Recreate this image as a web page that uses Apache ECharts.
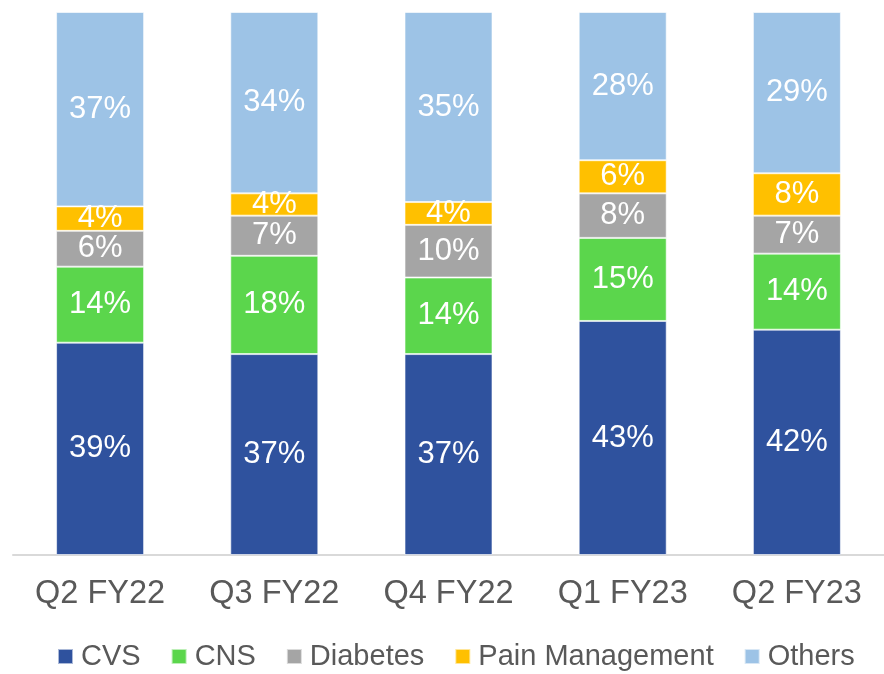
<!DOCTYPE html>
<html>
<head>
<meta charset="utf-8">
<script src="https://cdn.jsdelivr.net/npm/echarts@6/dist/echarts.min.js"></script>
<style>
  html, body { margin: 0; padding: 0; background: #fff; }
  #chart { width: 884px; height: 674px; }
</style>
</head>
<body>
<div id="chart"></div>
<script>
// quarters on the x axis
var quarters = ['Q2 FY22', 'Q3 FY22', 'Q4 FY22', 'Q1 FY23', 'Q2 FY23'];

// segment sizes as drawn (share of a 100% bar)
var cvs = [39.1, 37.0, 37.0, 43.1, 41.5];
var cns = [14.0, 18.1, 14.1, 15.3, 14.0];
var diabetes = [6.6, 7.4, 9.7, 8.2, 7.0];
var painMgmt = [4.5, 4.1, 4.2, 6.1, 7.8];
var others = [35.8, 33.4, 35.0, 27.3, 29.7];

// labels printed on the bars
var cvsLabels = [39, 37, 37, 43, 42];
var cnsLabels = [14, 18, 14, 15, 14];
var diabetesLabels = [6, 7, 10, 8, 7];
var painLabels = [4, 4, 4, 6, 8];
var othersLabels = [37, 34, 35, 28, 29];

var seriesNames = ['CVS', 'CNS', 'Diabetes', 'Pain Management', 'Others'];
var seriesColors = ['#2F529E', '#5BD64C', '#A5A5A5', '#FFC000', '#9DC3E6'];
var seriesData = [cvs, cns, diabetes, painMgmt, others];
var seriesLabels = [cvsLabels, cnsLabels, diabetesLabels, painLabels, othersLabels];

var chart = echarts.init(document.getElementById('chart'));

var series = [];
$each = function (arr, fn) { for (var k = 0; k < arr.length; k++) fn(k, arr[k]); };
$each(seriesNames, function (i, name) {
    var labels = seriesLabels[i];
    series.push({
        name: name,
        type: 'bar',
        stack: 'share',
        barWidth: 88,
        data: seriesData[i],
        itemStyle: {
            color: seriesColors[i],
            borderColor: 'rgba(255,255,255,0.6)',
            borderWidth: 1
        },
        label: {
            show: true,
            position: 'inside',
            formatter: function (p) { return labels[p.dataIndex] + '%'; },
            color: '#fff',
            fontFamily: 'Liberation Sans, Arial, sans-serif',
            fontSize: 31
        }
    });
});

var option = {
    animation: false,
    grid: {
        left: 13,
        top: 12,
        width: 876,
        height: 543
    },
    xAxis: {
        type: 'category',
        data: quarters,
        axisLine: { lineStyle: { color: '#D9D9D9', width: 2 } },
        axisTick: { show: false },
        axisLabel: {
            color: '#595959',
            fontFamily: 'Liberation Sans, Arial, sans-serif',
            fontSize: 32.5,
            margin: 23
        }
    },
    yAxis: {
        type: 'value',
        min: 0,
        max: 100,
        show: false,
        splitLine: { show: false }
    },
    legend: {
        data: seriesNames,
        left: 52,
        top: 637,
        icon: 'rect',
        itemWidth: 15,
        itemHeight: 15,
        itemGap: 30,
        textStyle: {
            color: '#595959',
            fontFamily: 'Liberation Sans, Arial, sans-serif',
            fontSize: 29,
            padding: [0, 0, 0, 3]
        }
    },
    series: series
};

chart.setOption(option);
</script>
</body>
</html>
